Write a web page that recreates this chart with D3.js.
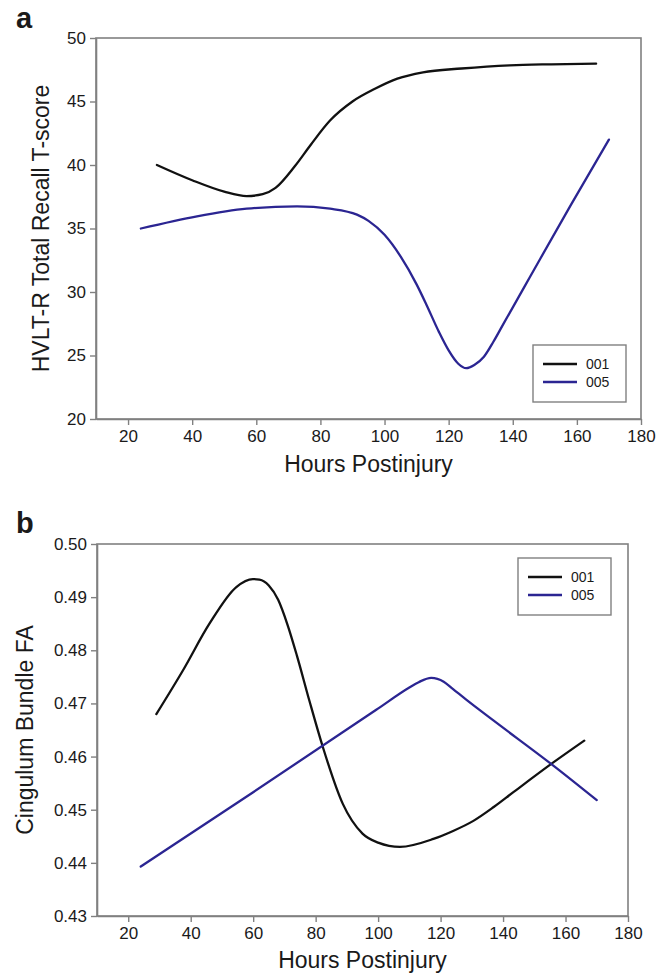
<!DOCTYPE html>
<head>
  <meta charset="utf-8">
  <script src="https://d3js.org/d3.v7.min.js"></script>
  <style>
    body { margin:0; background:#fff; }
    text { font-family: "Liberation Sans", Arial, sans-serif; fill:#1a1a1a; }
  </style>
</head>

<body>
  <script>
    // values (hours postinjury -> value)
    var seriesNames = ['001', '005'];
    var seriesColors = ['#111111', '#2b2592'];

    // panel a: HVLT-R total recall T-score
    var hoursA001 = [29, 40, 50, 57, 62, 66, 72, 77, 83, 90, 97, 104, 112, 124, 139, 152, 166];
    var scoreA001 = [40.0, 38.8, 37.9, 37.55, 37.7, 38.2, 39.9, 41.6, 43.5, 45.0, 46.0, 46.8, 47.3, 47.6, 47.85, 47.93, 47.98];
    var hoursA005 = [24, 41.5, 57, 72.7, 83, 91.4, 95, 100, 105, 110, 113, 117, 120, 123, 125.5, 128, 131, 134, 137, 145.4, 158, 170];
    var scoreA005 = [35.0, 35.96, 36.56, 36.75, 36.56, 36.09, 35.6, 34.5, 32.8, 30.6, 29.04, 26.84, 25.4, 24.35, 24.0, 24.25, 24.9, 26.1, 27.45, 31.2, 36.8, 42.0];

    // panel b: cingulum bundle FA
    var hoursB001 = [29, 37.5, 46, 54.6, 59.9, 62, 65, 68, 71, 74, 78, 82.3, 88.7, 95, 100, 107, 117.7, 124, 130.5, 137, 143.3, 156.1, 166];
    var faB001 = [0.468, 0.4762, 0.485, 0.4919, 0.4934, 0.4933, 0.4922, 0.4895, 0.4848, 0.4790, 0.4705, 0.4618, 0.4511, 0.4455, 0.4438, 0.4430, 0.4445, 0.4460, 0.4479, 0.4505, 0.4533, 0.4589, 0.4630];
    var hoursB005 = [24, 60, 99.4, 110, 113, 117, 121, 124, 128, 136.9, 156.1, 170];
    var faB005 = [0.4393, 0.4533, 0.4688, 0.4730, 0.4740, 0.4748, 0.4741, 0.4727, 0.4708, 0.4668, 0.4583, 0.4518];

    var xTicks = [20, 40, 60, 80, 100, 120, 140, 160, 180];
    var yTicksA = [20, 25, 30, 35, 40, 45, 50];
    var yTicksB = [0.43, 0.44, 0.45, 0.46, 0.47, 0.48, 0.49, 0.50];

    var width = 665, height = 973;

    var svg = d3.select('body')
      .append('svg')
      .attr('width', width)
      .attr('height', height);

    function zip(xs, ys) {
      return xs.map(function(x, i) { return [x, ys[i]]; });
    }

    function drawPanel(p) {
      var x = d3.scaleLinear().domain([10, 180]).range([p.left, p.right]);
      var y = d3.scaleLinear().domain(p.yDomain).range([p.bottom, p.top]);
      var g = svg.append('g');

      // frame
      g.append('rect')
        .attr('x', p.left).attr('y', p.top)
        .attr('width', p.right - p.left).attr('height', p.bottom - p.top)
        .style('fill', 'none').style('stroke', '#808080').style('stroke-width', 1.6);

      var xAxis = g.append('g')
        .attr('transform', 'translate(0,' + p.bottom + ')')
        .call(d3.axisBottom(x).tickValues(xTicks).tickSize(6).tickPadding(5).tickSizeOuter(0));
      var yAxis = g.append('g')
        .attr('transform', 'translate(' + p.left + ',0)')
        .call(d3.axisLeft(y).tickValues(p.yTicks).tickFormat(p.yFormat).tickSize(6).tickPadding(4).tickSizeOuter(0));
      [xAxis, yAxis].forEach(function(a) {
        a.select('.domain').style('stroke', '#808080').style('stroke-width', 1.6);
        a.selectAll('.tick line').style('stroke', '#808080').style('stroke-width', 1.4);
        a.selectAll('.tick text').style('font-size', '17px').style('fill', '#1a1a1a')
          .style('font-family', '"Liberation Sans", Arial, sans-serif');
      });

      var line = d3.line()
        .x(function(d) { return x(d[0]); })
        .y(function(d) { return y(d[1]); })
        .curve(d3.curveMonotoneX);

      p.series.forEach(function(s, i) {
        g.append('path')
          .datum(s)
          .attr('d', line)
          .style('fill', 'none')
          .style('stroke', seriesColors[i])
          .style('stroke-width', 2.3)
          .style('stroke-linecap', 'round');
      });

      // legend
      var lg = g.append('g').attr('transform', 'translate(' + p.legend[0] + ',' + p.legend[1] + ')');
      lg.append('rect')
        .attr('width', 93).attr('height', 57)
        .style('fill', '#fff').style('stroke', '#808080').style('stroke-width', 1.4);
      seriesNames.forEach(function(name, i) {
        lg.append('line')
          .attr('x1', 10).attr('x2', 44)
          .attr('y1', 19 + i * 18).attr('y2', 19 + i * 18)
          .style('stroke', seriesColors[i]).style('stroke-width', 2.3);
        lg.append('text')
          .attr('x', 53).attr('y', 24 + i * 18)
          .style('font-size', '14px')
          .text(name);
      });

      // titles
      g.append('text')
        .attr('x', (p.left + p.right) / 2).attr('y', p.xTitleY)
        .style('text-anchor', 'middle').style('font-size', '23px')
        .text('Hours Postinjury');
      g.append('text')
        .attr('transform', 'translate(' + p.yTitleX + ',' + (p.top + p.bottom) / 2 + ') rotate(-90)')
        .style('text-anchor', 'middle').style('font-size', '23px')
        .text(p.yTitle);
      g.append('text')
        .attr('x', 16).attr('y', p.labelY)
        .style('font-size', '29px').style('font-weight', 'bold')
        .text(p.label);
    }

    drawPanel({
      label: 'a', labelY: 28,
      left: 96, right: 641, top: 38, bottom: 419,
      yDomain: [20, 50], yTicks: yTicksA, yFormat: d3.format('d'),
      yTitle: 'HVLT-R Total Recall T-score', yTitleX: 49, xTitleY: 472,
      legend: [533, 345],
      series: [zip(hoursA001, scoreA001), zip(hoursA005, scoreA005)]
    });

    drawPanel({
      label: 'b', labelY: 533,
      left: 97, right: 628, top: 544, bottom: 916,
      yDomain: [0.43, 0.50], yTicks: yTicksB, yFormat: d3.format('.2f'),
      yTitle: 'Cingulum Bundle FA', yTitleX: 33, xTitleY: 968,
      legend: [518, 558],
      series: [zip(hoursB001, faB001), zip(hoursB005, faB005)]
    });
  </script>
</body>
